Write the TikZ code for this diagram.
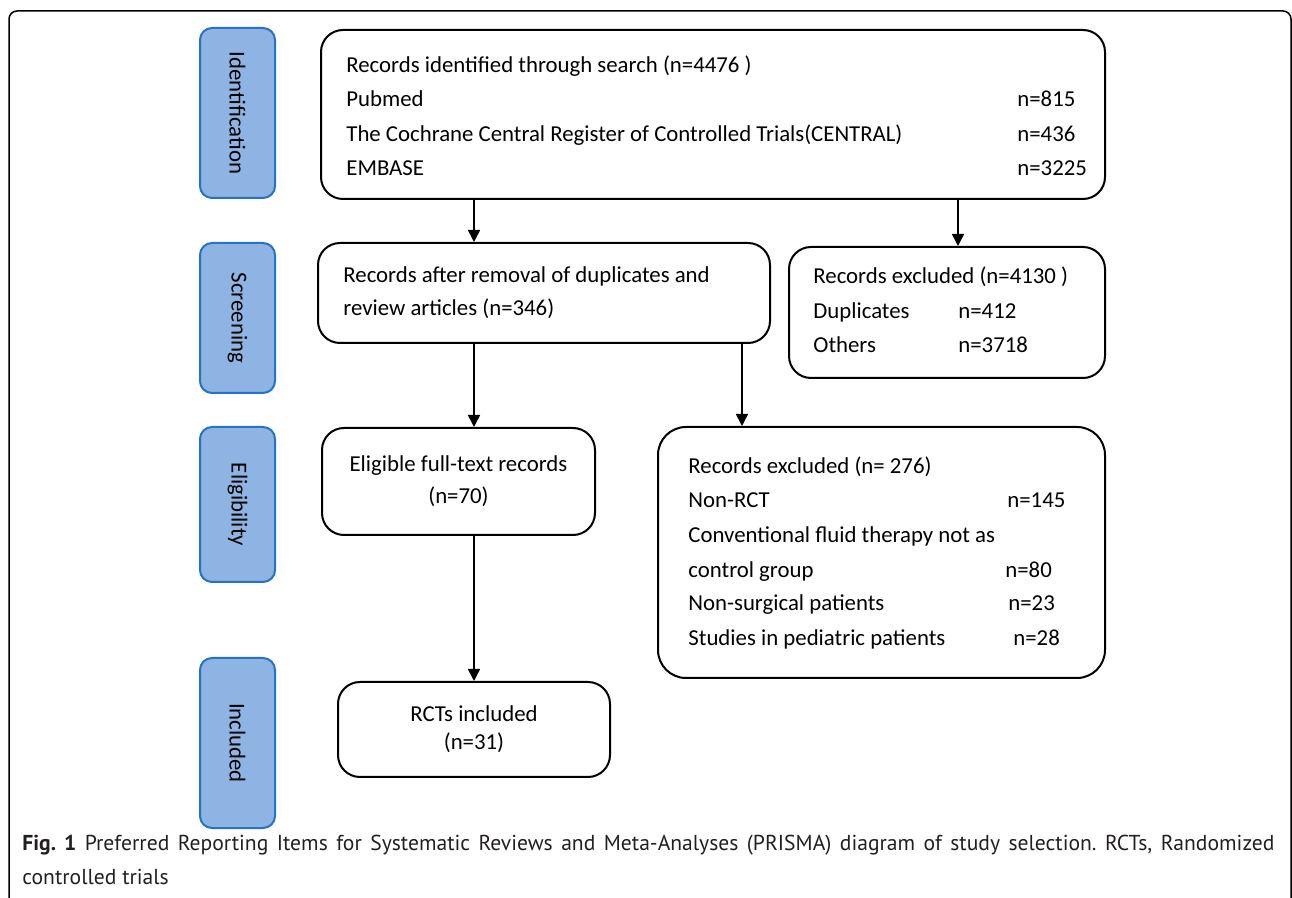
\documentclass[tikz,border=0pt]{standalone}
\usepackage{fontspec}
\setmainfont{Carlito}
\newfontfamily\capfont{PT Sans}
\usetikzlibrary{arrows.meta}
\definecolor{stagefill}{RGB}{141,180,226}
\definecolor{stageline}{RGB}{38,114,196}
\definecolor{captext}{RGB}{35,31,32}

\begin{document}
\begin{tikzpicture}[x=0.5pt, y=-0.5pt,
    every node/.style={font=\fontsize{11.4}{16}\selectfont},
    box/.style={draw, line width=1pt, rounded corners=11pt, inner sep=0pt},
    stage/.style={draw=stageline, fill=stagefill, line width=1pt, rounded corners=6pt, rotate=-90, minimum height=37.5pt, inner sep=0pt},
    txt/.style={anchor=west, inner sep=0pt, text height=7.6pt, text depth=1.8pt},
    arr/.style={line width=0.8pt, -{Triangle[length=6pt, width=6pt]}}]
        \useasboundingbox (0,0) rectangle (1292,898);
        \draw[line width=0.75pt, rounded corners=4pt] (9,898) -- (9,11) -- (1291,11) -- (1291,898);

        \node[stage, minimum width=85pt] (ident) at (237.5,113) {Identification};
        \node[stage, minimum width=75pt] (screen) at (237.5,318) {Screening};
        \node[stage, minimum width=77.5pt] (elig) at (237.5,504.5) {Eligibility};
        \node[stage, minimum width=85pt] (incl) at (237.5,743) {Included};

        \node[box, minimum width=392pt, minimum height=84.5pt] (search) at (713,114.5) {};
        \node[box, minimum width=226pt, minimum height=50pt] (dedup) at (544,293) {};
        \node[box, minimum width=158pt, minimum height=65.5pt] (excla) at (947,312.5) {};
        \node[box, minimum width=136.5pt, minimum height=53.5pt, align=center, font=\fontsize{11.4}{16}\selectfont] (fulltext) at (458.5,481.5) {Eligible full-text records\\(n=70)};
        \node[box, rounded corners=14pt, minimum width=223.5pt, minimum height=125.5pt] (exclb) at (881.5,552.5) {};
        \node[box, minimum width=136pt, minimum height=47.5pt, align=center, font=\fontsize{11.4}{14}\selectfont] (rcts) at (474,729.5) {RCTs included\\(n=31)};

        \node[txt] (srchhead) at (346,67) {Records identified through search (n=4476 )};
        \node[txt] (pubmed) at (346,101) {Pubmed};
        \node[txt] (pubmedn) at (1017,101) {n=815};
        \node[txt] (central) at (346,136) {The Cochrane Central Register of Controlled Trials(CENTRAL)};
        \node[txt] (centraln) at (1017,136) {n=436};
        \node[txt] (embase) at (346,170) {EMBASE};
        \node[txt] (embasen) at (1017,170) {n=3225};

        \node[txt] (deduptop) at (343,277) {Records after removal of duplicates and};
        \node[txt] (dedupbot) at (343,310) {review articles (n=346)};

        \node[txt] (exclahead) at (813,278) {Records excluded (n=4130 )};
        \node[txt] (dupl) at (813,313) {Duplicates};
        \node[txt] (dupln) at (958,313) {n=412};
        \node[txt] (others) at (813,347) {Others};
        \node[txt] (othersn) at (958,347) {n=3718};

        \node[txt] (exclbhead) at (688,468) {Records excluded (n= 276)};
        \node[txt] (nonrct) at (688,502) {Non-RCT};
        \node[txt] (nonrctn) at (1007,502) {n=145};
        \node[txt] (conv) at (688,537) {Conventional fluid therapy not as};
        \node[txt] (control) at (688,572) {control group};
        \node[txt] (controln) at (1005,572) {n=80};
        \node[txt] (nonsurg) at (688,605) {Non-surgical patients};
        \node[txt] (nonsurgn) at (1008,605) {n=23};
        \node[txt] (pediat) at (688,640) {Studies in pediatric patients};
        \node[txt] (pediatn) at (1013,640) {n=28};

        \coordinate (cola) at (474,0);
        \coordinate (colb) at (958,0);
        \coordinate (colc) at (742,0);

        \draw[arr] (search.south -| cola) -- (dedup.north -| cola);
        \draw[arr] (search.south -| colb) -- (excla.north -| colb);
        \draw[arr] (dedup.south -| cola) -- (fulltext.north -| cola);
        \draw[arr] (dedup.south -| colc) -- (exclb.north -| colc);
        \draw[arr] (fulltext.south -| cola) -- (rcts.north -| cola);

        \node[anchor=west, align=left, inner sep=0pt, text=captext, font=\capfont\fontsize{10.8}{17}\selectfont\frenchspacing] (caption) at (22,860) {\makebox[626pt][s]{\textbf{Fig. 1} Preferred Reporting Items for Systematic Reviews and Meta-Analyses (PRISMA) diagram of study selection. RCTs, Randomized}\\controlled trials};
    \end{tikzpicture}
\end{document}
